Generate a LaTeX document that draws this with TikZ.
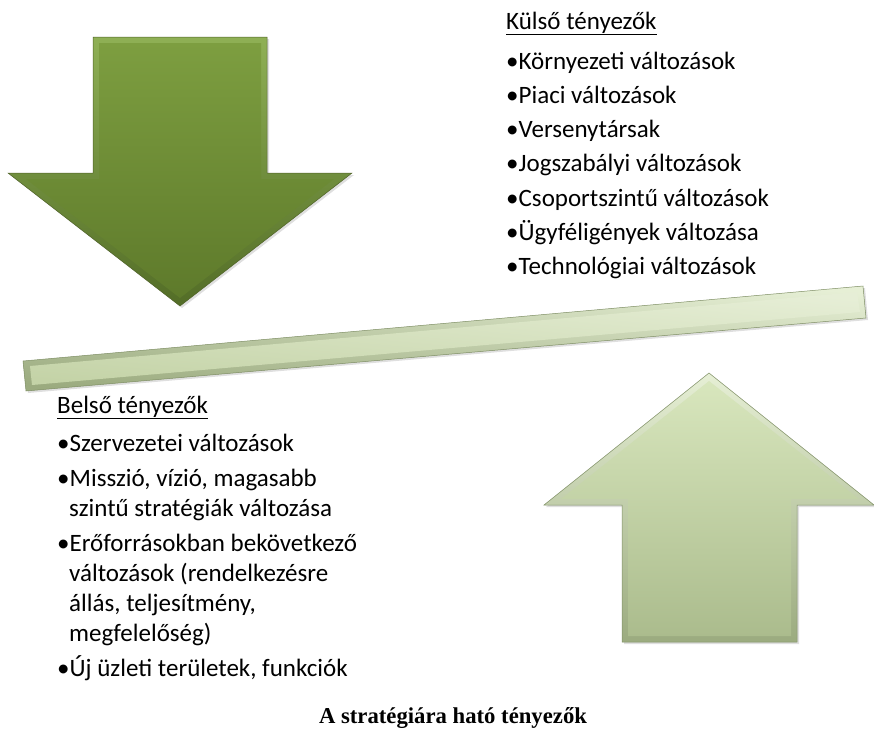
\documentclass[tikz,border=0pt]{standalone}
\usepackage{fontspec}
\setmainfont{Carlito}
\newfontfamily\capfont{Liberation Serif}
\usetikzlibrary{shadows}
\definecolor{dgMain1}{HTML}{7D9E40}
\definecolor{dgMain2}{HTML}{5E7A2B}
\definecolor{dgBev1}{HTML}{8FB055}
\definecolor{dgBev2}{HTML}{536D27}
\definecolor{dgLine}{HTML}{4F6228}
\definecolor{lgMain1}{HTML}{D8E6BD}
\definecolor{lgMain2}{HTML}{ABBC8D}
\definecolor{lgBev1}{HTML}{E6EFD5}
\definecolor{lgBev2}{HTML}{9BAB7F}
\definecolor{lgLine}{HTML}{7E8E64}
\definecolor{bmMain1}{HTML}{E6EED6}
\definecolor{bmMain2}{HTML}{C4D3A7}
\tikzset{
  body/.style={font=\fontsize{25}{30}\selectfont, anchor=base west, inner sep=0pt},
  captxt/.style={font=\capfont\bfseries\fontsize{22.7}{27}\selectfont, anchor=base, inner sep=0pt},
  softshadow/.style={drop shadow={opacity=0.25, shadow xshift=2pt, shadow yshift=-2pt}},
  darkouter/.style={top color=dgBev1, bottom color=dgBev2, draw=dgLine, line width=0.5pt, softshadow},
  darkinner/.style={top color=dgMain1, bottom color=dgMain2},
  lightouter/.style={top color=lgBev1, bottom color=lgBev2, draw=lgLine, line width=0.5pt, softshadow},
  lightinner/.style={top color=lgMain1, bottom color=lgMain2},
  beamouter/.style={top color=lgBev1, bottom color=lgBev2, shading angle=-5.3, draw=lgLine, line width=0.5pt, softshadow},
  beaminner/.style={top color=bmMain1, bottom color=bmMain2, shading angle=-5.3},
}
\begin{document}
\begin{tikzpicture}[x=1pt,y=-1pt]
\useasboundingbox (0,0) rectangle (874,736);
% down arrow
\path[darkouter] (93,37) -- (267,37) -- (267,173) -- (352,173) -- (180,306) -- (8,173) -- (93,173) -- cycle;
\path[darkinner] (99,43) -- (261,43) -- (261,179) -- (334,179) -- (180,298) -- (26,179) -- (99,179) -- cycle;
% beam
\path[beamouter] (23,361) -- (863,286) -- (866,318) -- (26,391) -- cycle;
\path[beaminner] (30,366) -- (857,292) -- (860,312) -- (32,385) -- cycle;
% up arrow
\path[lightouter] (709,373) -- (874,505) -- (797,505) -- (797,642) -- (622,642) -- (622,505) -- (544,505) -- cycle;
\path[lightinner] (709,381) -- (859,499) -- (791,499) -- (791,636) -- (628,636) -- (628,499) -- (561,499) -- cycle;
% Külső
\node[body] (kh) at (506,29) {\underline{Külső tényezők}};
\node[body] (k1) at (506,69) {•Környezeti változások};
\node[body] (k2) at (506,103.3) {•Piaci változások};
\node[body] (k3) at (506,137.6) {•Versenytársak};
\node[body] (k4) at (506,171.9) {•Jogszabályi változások};
\node[body] (k5) at (506,206.2) {•Csoportszintű változások};
\node[body] (k6) at (506,240.5) {•Ügyféligények változása};
\node[body] (k7) at (506,274.8) {•Technológiai változások};
% Belső
\node[body] (bh) at (57,413) {\underline{Belső tényezők}};
\node[body] (b1) at (57,451) {•Szervezetei változások};
\node[body] (b2) at (57,486) {•Misszió, vízió, magasabb};
\node[body] (b2b) at (69,516) {szintű stratégiák változása};
\node[body] (b3) at (57,551) {•Erőforrásokban bekövetkező};
\node[body] (b3b) at (69,581) {változások (rendelkezésre};
\node[body] (b3c) at (69,611) {állás, teljesítmény,};
\node[body] (b3d) at (69,641) {megfelelőség)};
\node[body] (b4) at (57,676) {•Új üzleti területek, funkciók};
% caption
\node[captxt] (cap) at (453,723) {A stratégiára ható tényezők};
\end{tikzpicture}
\end{document}
